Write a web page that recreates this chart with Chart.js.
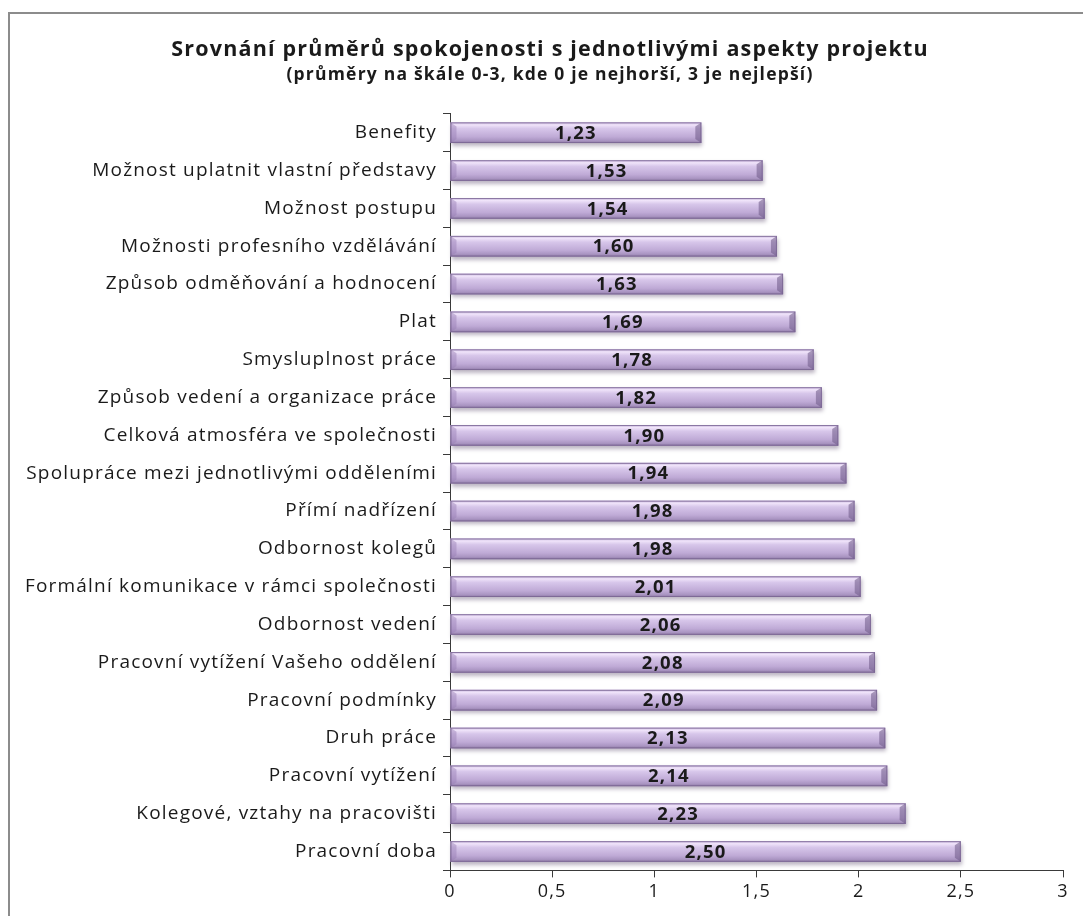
<!DOCTYPE html>
<html lang="cs">
<head>
<meta charset="utf-8">
<title>Srovnání průměrů spokojenosti</title>
<script src="https://cdn.jsdelivr.net/npm/chart.js@4.4.1/dist/chart.umd.min.js"></script>
<style>
    html, body { margin: 0; padding: 0; background: #ffffff; }
    #wrap { position: relative; width: 1083px; height: 916px; }
</style>
</head>
<body>
<div id="wrap"><canvas id="satisfactionChart" width="1083" height="916"></canvas></div>
<script>
// Aspekty projektu a jejich průměrné hodnocení (škála 0-3)
const aspects = [
    'Benefity',
    'Možnost uplatnit vlastní představy',
    'Možnost postupu',
    'Možnosti profesního vzdělávání',
    'Způsob odměňování a hodnocení',
    'Plat',
    'Smysluplnost práce',
    'Způsob vedení a organizace práce',
    'Celková atmosféra ve společnosti',
    'Spolupráce mezi jednotlivými odděleními',
    'Přímí nadřízení',
    'Odbornost kolegů',
    'Formální komunikace v rámci společnosti',
    'Odbornost vedení',
    'Pracovní vytížení Vašeho oddělení',
    'Pracovní podmínky',
    'Druh práce',
    'Pracovní vytížení',
    'Kolegové, vztahy na pracovišti',
    'Pracovní doba'
];
const averages = [1.23, 1.53, 1.54, 1.60, 1.63, 1.69, 1.78, 1.82, 1.90, 1.94,
                  1.98, 1.98, 2.01, 2.06, 2.08, 2.09, 2.13, 2.14, 2.23, 2.50];
const axisTicks = [0, 0.5, 1, 1.5, 2, 2.5, 3];

const fontFamily = '"Open Sans", Lato, sans-serif';
const textColor = '#1a1a1a';
const axisColor = '#3a3a3a';

const fmt = v => String(v).replace('.', ',');

// outer frame of the chart object (only top and left edge are in view),
// plus a little wider letter spacing for all text
const framePlugin = {
    id: 'frame',
    afterLayout(chart) {
        // center the title block over the frame rather than the canvas
        chart.boxes.forEach(box => {
            if (box.options && box.options.text !== undefined) box.left += 37;
        });
    },
    beforeDraw(chart) {
        const c = chart.ctx;
        c.save();
        c.fillStyle = '#ffffff';
        c.fillRect(0, 0, chart.width, chart.height);
        c.strokeStyle = '#8c8c8c';
        c.lineWidth = 2;
        c.beginPath();
        c.moveTo(9, chart.height);
        c.lineTo(9, 13);
        c.lineTo(chart.width, 13);
        c.stroke();
        c.restore();
        c.letterSpacing = '1.2px';
    }
};

// beveled lavender bars with a soft shadow
const bevelPlugin = {
    id: 'bevel',
    afterDatasetsDraw(chart) {
        const c = chart.ctx;
        const meta = chart.getDatasetMeta(0);
        meta.data.forEach(bar => {
            const left = Math.min(bar.base, bar.x);
            const w = Math.abs(bar.x - bar.base);
            const top = bar.y - bar.height / 2;
            const h = bar.height;

            c.save();
            c.shadowColor = 'rgba(60, 40, 80, 0.35)';
            c.shadowBlur = 4;
            c.shadowOffsetX = 1;
            c.shadowOffsetY = 3;
            const g = c.createLinearGradient(0, top, 0, top + h);
            g.addColorStop(0, '#c6b3dc');
            g.addColorStop(0.12, '#f0e4fa');
            g.addColorStop(0.3, '#d7c6ea');
            g.addColorStop(0.7, '#bfaad6');
            g.addColorStop(0.88, '#aa95c2');
            g.addColorStop(1, '#8f7aa6');
            c.fillStyle = g;
            c.fillRect(left, top, w, h);
            c.restore();

            // right bevel
            c.save();
            c.beginPath();
            c.moveTo(left + w, top);
            c.lineTo(left + w, top + h);
            c.lineTo(left + w - 6, top + h - 4);
            c.lineTo(left + w - 6, top + 4);
            c.closePath();
            c.fillStyle = 'rgba(110, 90, 135, 0.55)';
            c.fill();
            // left bevel
            c.beginPath();
            c.moveTo(left, top);
            c.lineTo(left + 6, top + 4);
            c.lineTo(left + 6, top + h - 4);
            c.lineTo(left, top + h);
            c.closePath();
            c.fillStyle = 'rgba(150, 125, 180, 0.45)';
            c.fill();
            c.strokeStyle = 'rgba(120, 100, 145, 0.8)';
            c.lineWidth = 1;
            c.strokeRect(left + 0.5, top + 0.5, w - 1, h - 1);
            c.restore();
        });
    },
    afterDraw(chart) {
        // value labels in the middle of each bar
        const c = chart.ctx;
        const meta = chart.getDatasetMeta(0);
        c.save();
        c.font = 'bold 18.5px ' + fontFamily;
        c.fillStyle = textColor;
        c.textAlign = 'center';
        c.textBaseline = 'middle';
        meta.data.forEach((bar, i) => {
            const cx = (bar.base + bar.x) / 2;
            c.fillText(averages[i].toFixed(2).replace('.', ','), cx, bar.y + 1);
        });
        c.restore();
    }
};

new Chart(document.getElementById('satisfactionChart'), {
    type: 'bar',
    data: {
        labels: aspects,
        datasets: [{
            data: averages,
            backgroundColor: '#c9b6dd',
            borderWidth: 0,
            barPercentage: 0.78,
            categoryPercentage: 0.7
        }]
    },
    options: {
        indexAxis: 'y',
        responsive: false,
        animation: false,
        layout: { padding: { left: 0, right: 20, top: 0, bottom: 9 } },
        plugins: {
            legend: { display: false },
            tooltip: { enabled: false },
            title: {
                display: true,
                text: 'Srovnání průměrů spokojenosti s jednotlivými aspekty projektu',
                color: textColor,
                font: { family: fontFamily, size: 21.5, weight: 'bold' },
                padding: { top: 37, bottom: 2 }
            },
            subtitle: {
                display: true,
                text: '(průměry na škále 0-3, kde 0 je nejhorší, 3 je nejlepší)',
                color: textColor,
                font: { family: fontFamily, size: 17.5, weight: 'bold' },
                padding: { top: 0, bottom: 28 }
            }
        },
        scales: {
            x: {
                min: 0,
                max: 3,
                afterBuildTicks(scale) {
                    scale.ticks = axisTicks.map(v => ({ value: v }));
                },
                border: { display: true, color: axisColor, width: 1 },
                grid: {
                    drawOnChartArea: false,
                    drawTicks: true,
                    tickLength: 7,
                    color: axisColor
                },
                ticks: {
                    color: textColor,
                    font: { family: fontFamily, size: 18 },
                    padding: 4,
                    callback: v => fmt(v)
                }
            },
            y: {
                afterFit(scale) { scale.width = 450; },
                border: { display: true, color: axisColor, width: 1 },
                grid: {
                    drawOnChartArea: false,
                    drawTicks: true,
                    tickLength: 7,
                    color: axisColor
                },
                ticks: {
                    color: textColor,
                    font: { family: fontFamily, size: 19 },
                    padding: 6
                }
            }
        }
    },
    plugins: [framePlugin, bevelPlugin]
});
</script>
</body>
</html>
